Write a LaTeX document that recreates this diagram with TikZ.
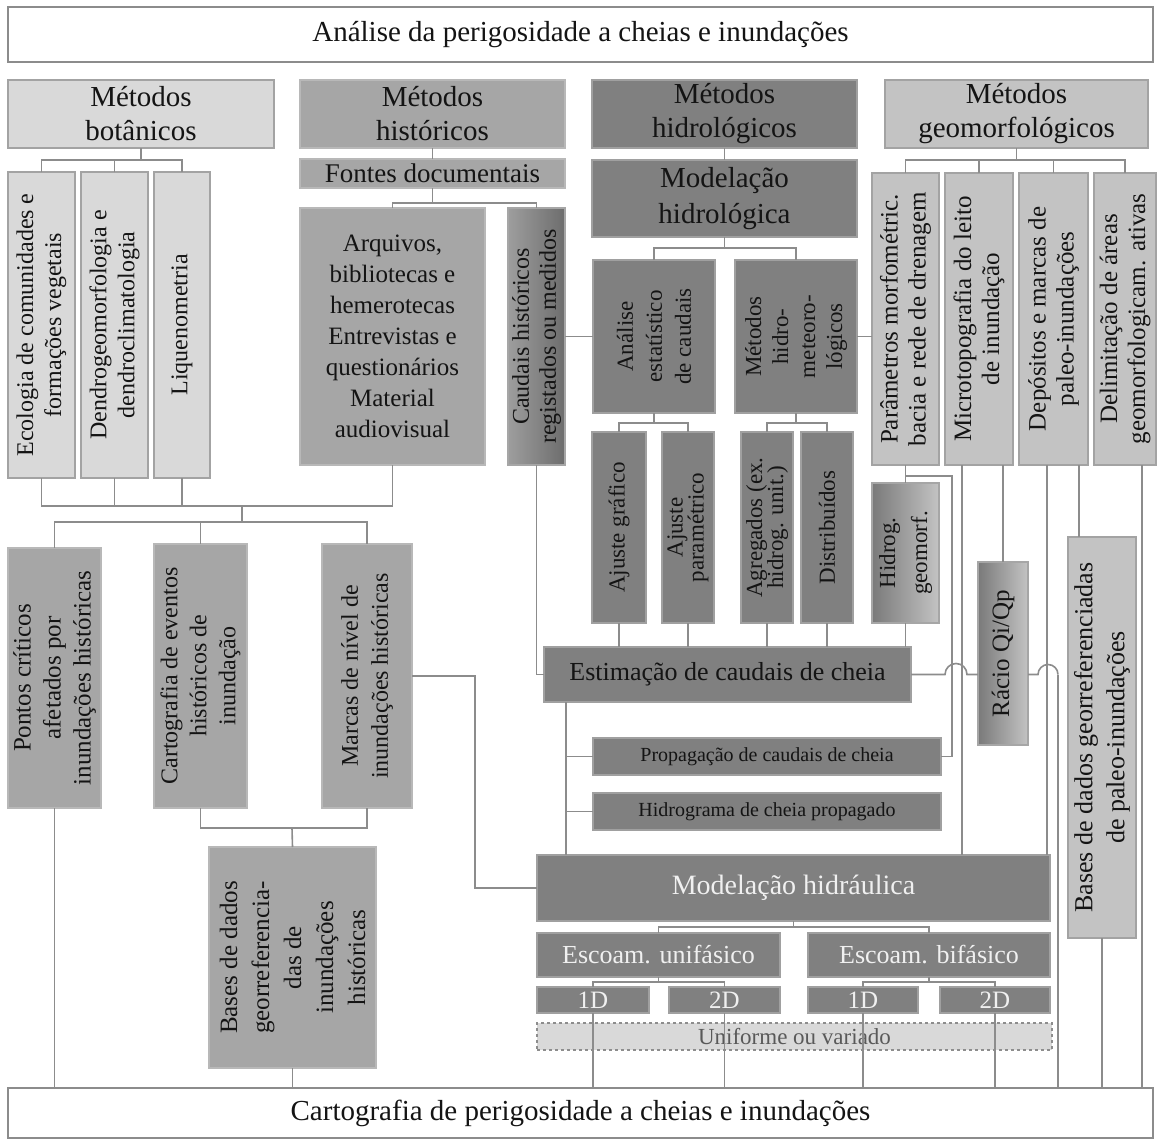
\documentclass[tikz,border=0pt]{standalone}
\usepackage{fontspec}
\setmainfont{Liberation Serif}
\usetikzlibrary{calc}
\definecolor{cA}{HTML}{D9D9D9}
\definecolor{cB}{HTML}{A6A6A6}
\definecolor{cC}{HTML}{808080}
\definecolor{cD}{HTML}{C3C3C3}
\definecolor{lnc}{HTML}{8C8C8C}
\definecolor{brd}{HTML}{A3A3A3}
\definecolor{txt}{HTML}{141414}
\newcommand\fs[2]{\fontsize{#1}{#2}\selectfont}
\newcommand\bx[7]{\node[#6,minimum width={(#4-#2)*1pt},minimum height={(#5-#3)*1pt}] (#1) at ({(#2+#4)/2},{(#3+#5)/2}) {#7};}
\newcommand\vlab[3]{\node[rotate=90,align=center,inner sep=0pt,text=txt,font=#2] (#1T) at (#1) {#3};}
\begin{document}
\begin{tikzpicture}[x=1pt,y=-1pt,
  base/.style={draw=brd,line width=1.4pt,inner sep=0pt,outer sep=0pt,align=center,text=txt},
  bW/.style={base,fill=white,draw=lnc},
  bA/.style={base,fill=cA},
  bB/.style={base,fill=cB,draw=cB!80!white},
  bC/.style={base,fill=cC,draw=cC!75!white},
  bD/.style={base,fill=cD},
  gH/.style={base,left color=cB!95!black,right color=cC!85!black,draw=cB},
  gL/.style={base,left color=cC!105!white,right color=cA!90!black,draw=cB},
  bU/.style={base,fill=cA,draw=cB!85!black,dashed,line width=1.3pt},
  wt/.style={text=white!94!black},
  ln/.style={draw=lnc,line width=1.6pt}]
\useasboundingbox (0,0) rectangle (1159,1140);
% top and bottom
\bx{top}{8}{7}{1153}{62}{bW,font={\fs{29}{34}}}{Análise da perigosidade a cheias e inundações}
\bx{bot}{8}{1088}{1153}{1138}{bW,font={\fs{29}{34}}}{Cartografia de perigosidade a cheias e inundações}
% method headers
\bx{mbot}{8}{80}{274}{148}{bA,font={\fs{29}{34}}}{Métodos\\botânicos}
\bx{mhis}{300}{80}{565}{148}{bB,font={\fs{29}{34}}}{Métodos\\históricos}
\bx{mhid}{592}{80}{857}{148}{bC,font={\fs{29}{34}}}{Métodos\\hidrológicos}
\bx{mgeo}{885}{80}{1148}{148}{bD,font={\fs{29}{34}}}{Métodos\\geomorfológicos}
% botanical
\bx{eco}{8}{172}{75}{478}{bA}{}
\bx{den}{81}{172}{148}{478}{bA}{}
\bx{liq}{154}{172}{210}{478}{bA}{}
\vlab{eco}{\fs{24}{28}}{Ecologia de comunidades e\\formações vegetais}
\vlab{den}{\fs{24}{28}}{Dendrogeomorfologia e\\dendroclimatologia}
\vlab{liq}{\fs{24}{28}}{Liquenometria}
% historical
\bx{fon}{300}{159}{565}{188}{bB,font={\fs{27}{32}}}{Fontes documentais}
\bx{arq}{300}{208}{485}{465}{bB,font={\fs{25}{31}}}{Arquivos,\\bibliotecas e\\hemerotecas\\Entrevistas e\\questionários\\Material\\audiovisual}
\bx{cau}{508}{208}{565}{465}{gH}{}
\vlab{cau}{\fs{24}{27}}{Caudais históricos\\registados ou medidos}
% hydrological
\bx{mod}{592}{160}{857}{237}{bC,font={\fs{29}{36}}}{Modelação\\hidrológica}
\bx{aes}{593}{260}{715}{413}{bC}{}
\bx{mhm}{735}{260}{857}{413}{bC}{}
\vlab{aes}{\fs{23}{29}}{Análise\\estatístico\\de caudais}
\vlab{mhm}{\fs{23}{27}}{Métodos\\hidro-\\meteoro-\\lógicos}
\bx{ajg}{592}{432}{646}{623}{bC}{}
\bx{ajp}{662}{432}{714}{623}{bC}{}
\bx{agr}{741}{432}{793}{623}{bC}{}
\bx{dis}{801}{432}{853}{623}{bC}{}
\bx{hgm}{872}{483}{939}{623}{gL}{}
\vlab{ajg}{\fs{23}{22}}{Ajuste gráfico}
\vlab{ajp}{\fs{23}{21}}{Ajuste\\paramétrico}
\vlab{agr}{\fs{23}{21}}{Agregados (ex.\\hidrog. unit.)}
\vlab{dis}{\fs{23}{22}}{Distribuídos}
\vlab{hgm}{\fs{23}{32}}{Hidrog.\\geomorf.}
% geomorphological
\bx{par}{872}{173}{939}{465}{bD}{}
\bx{mic}{945}{173}{1013}{465}{bD}{}
\bx{dep}{1019}{173}{1088}{465}{bD}{}
\bx{del}{1094}{173}{1156}{465}{bD}{}
\vlab{par}{\fs{25}{28}}{Parâmetros morfométric.\\bacia e rede de drenagem}
\vlab{mic}{\fs{25}{28}}{Microtopografia do leito\\de inundação}
\vlab{dep}{\fs{25}{28}}{Depósitos e marcas de\\paleo-inundações}
\vlab{del}{\fs{25}{28}}{Delimitação de áreas\\geomorfologicam. ativas}
\bx{rac}{978}{562}{1028}{745}{gL}{}
\vlab{rac}{\fs{25}{30}}{Rácio Qi/Qp}
\bx{bpa}{1068}{537}{1136}{938}{bD}{}
\vlab{bpa}{\fs{26}{32}}{Bases de dados georreferenciadas\\de paleo-inundações}
% estimation
\bx{est}{544}{647}{911}{702}{bC,font={\fs{26}{30}}}{Estimação de caudais de cheia}
\bx{pro}{593}{738}{941}{775}{bC,font={\fs{20}{24}}}{Propagação de caudais de cheia}
\bx{hid}{593}{793}{941}{830}{bC,font={\fs{20}{24}}}{Hidrograma de cheia propagado}
% historical results
\bx{pon}{8}{548}{101}{808}{bB}{}
\bx{cev}{154}{544}{247}{808}{bB}{}
\bx{mar}{322}{544}{412}{808}{bB}{}
\bx{bhi}{209}{847}{376}{1068}{bB}{}
\vlab{pon}{\fs{25}{30}}{Pontos críticos\\afetados por\\inundações históricas}
\vlab{cev}{\fs{24}{29}}{Cartografia de eventos\\históricos de\\inundação}
\vlab{mar}{\fs{24}{30}}{Marcas de nível de\\inundações históricas}
\vlab{bhi}{\fs{25}{32}}{Bases de dados\\georreferencia-\\das de\\inundações\\históricas}
% hydraulics
\bx{mhy}{537}{855}{1050}{921}{bC,wt,font={\fs{28}{34}}}{Modelação hidráulica}
\bx{euni}{537}{933}{780}{977}{bC,wt,font={\fs{26}{30}}}{Escoam. unifásico}
\bx{ebif}{808}{933}{1050}{977}{bC,wt,font={\fs{26}{30}}}{Escoam. bifásico}
\bx{u1d}{537}{987}{649}{1013}{bC,wt,font={\fs{25}{30}}}{1D}
\bx{u2d}{669}{987}{780}{1013}{bC,wt,font={\fs{25}{30}}}{2D}
\bx{b1d}{808}{987}{918}{1013}{bC,wt,font={\fs{25}{30}}}{1D}
\bx{b2d}{940}{987}{1050}{1013}{bC,wt,font={\fs{25}{30}}}{2D}
\bx{unif}{537}{1023}{1052}{1050}{bU,text=black!65,font={\fs{23}{28}}}{Uniforme ou variado}
% ---------- connectors ----------
% botanical tree
\draw[ln] (mbot.south) -- ++(0,12) coordinate (jb);
\draw[ln] (eco.north) |- (jb) -| (liq.north);
\draw[ln] (den.north) -- (den.north |- jb);
% historical tree
\draw[ln] (mhis.south) -- (fon.north);
\draw[ln] (fon.south) -- ++(0,15) coordinate (jf);
\draw[ln] (arq.north) |- (jf) -| (cau.north);
% hydrological tree
\draw[ln] (mhid.south) -- (mod.north);
\draw[ln] (mod.south) -- ++(0,11) coordinate (jm);
\draw[ln] (aes.north) |- (jm) -| (mhm.north);
\draw[ln] (aes.south) -- ++(0,10) coordinate (ja);
\draw[ln] (ajg.north) |- (ja) -| (ajp.north);
\draw[ln] (mhm.south) -- ++(0,10) coordinate (jh);
\draw[ln] (agr.north) |- (jh) -| (dis.north);
% geomorphological tree
\draw[ln] (mgeo.south) -- ++(0,12) coordinate (jg);
\draw[ln] (par.north) |- (jg) -| (del.north);
\draw[ln] (mic.north) -- (mic.north |- jg);
\draw[ln] (dep.north) -- (dep.north |- jg);
% cross links
\draw[ln] (cau.east) -- (aes.west);
\draw[ln] (mhm.east) -- (mhm.east -| par.west);
% join to historical results
\coordinate (jl) at (242,506);
\draw[ln] (eco.south) |- (arq.south |- jl) -- (arq.south);
\draw[ln] (den.south) -- (den.south |- jl);
\draw[ln] (liq.south) -- (liq.south |- jl);
\draw[ln] (jl) -- ++(0,16) coordinate (jp);
\draw[ln] (pon.north) |- (jp) -| (mar.north);
\draw[ln] (cev.north) -- (cev.north |- jp);
\coordinate (jc) at (292,828);
\draw[ln] (cev.south) |- (jc) -| (mar.south);
\draw[ln] (jc) -- (bhi.north);
\draw[ln] (pon.south) -- (pon.south |- bot.north);
\draw[ln] (bhi.south) -- (bhi.south |- bot.north);
\coordinate (km) at (475,0);
\draw[ln] (mar.east) -- (mar.east -| km) |- (mhy.west);
% into estimation
\draw[ln] (cau.south) |- (est.west);
\draw[ln] (ajg.south) -- (ajg.south |- est.north);
\draw[ln] (ajp.south) -- (ajp.south |- est.north);
\draw[ln] (agr.south) -- (agr.south |- est.north);
\draw[ln] (dis.south) -- (dis.south |- est.north);
\draw[ln] (hgm.south) -- (hgm.south |- est.north);
\draw[ln] (par.south) -- (hgm.north);
\coordinate (kp) at (952,476);
\draw[ln] (par.south |- kp) -- (kp) |- (pro.east);
\coordinate (ke) at ($(est.south west)+(22,0)$);
\draw[ln] (ke) -- (ke |- mhy.north);
\draw[ln] (pro.west) -- (pro.west -| ke);
\draw[ln] (hid.west) -- (hid.west -| ke);
% right side
\coordinate (m1) at ($(mic.south west)+(17,0)$);
\draw[ln] (m1) -- (m1 |- mhy.north);
\draw[ln] (rac.north) -- (rac.north |- mic.south);
\coordinate (d1) at ($(dep.south west)+(28,0)$);
\draw[ln] (d1) -- (d1 |- mhy.north);
\coordinate (d2) at ($(dep.south west)+(60,0)$);
\draw[ln] (d2) -- (d2 |- bpa.north);
\draw[ln] (bpa.south) -- (bpa.south |- bot.north);
\coordinate (e1) at ($(del.south west)+(48,0)$);
\draw[ln] (e1) -- (e1 |- bot.north);
% humps
\draw[ln] (est.east) -- ++(34,0) arc[start angle=180,end angle=360,radius=11] -- (est.east -| rac.west);
\draw[ln] (rac.east |- est.east) -- ++(10,0) arc[start angle=180,end angle=360,radius=10] coordinate (kr);
\draw[ln] (kr) -- (kr |- bot.north);
% hydraulic tree
\draw[ln] (mhy.south) -- ++(0,6) coordinate (jy);
\draw[ln] (euni.north) |- (jy) -| (ebif.north);
\draw[ln] (euni.south) -- ++(0,5) coordinate (ju);
\draw[ln] (u1d.north) |- (ju) -| (u2d.north);
\draw[ln] (ebif.south) -- ++(0,5) coordinate (jv);
\draw[ln] (b1d.north) |- (jv) -| (b2d.north);
\draw[ln] (u1d.south) -- (u1d.south |- bot.north);
\draw[ln] (u2d.south) -- (u2d.south |- bot.north);
\draw[ln] (b1d.south) -- (b1d.south |- bot.north);
\draw[ln] (b2d.south) -- (b2d.south |- bot.north);
\end{tikzpicture}
\end{document}
